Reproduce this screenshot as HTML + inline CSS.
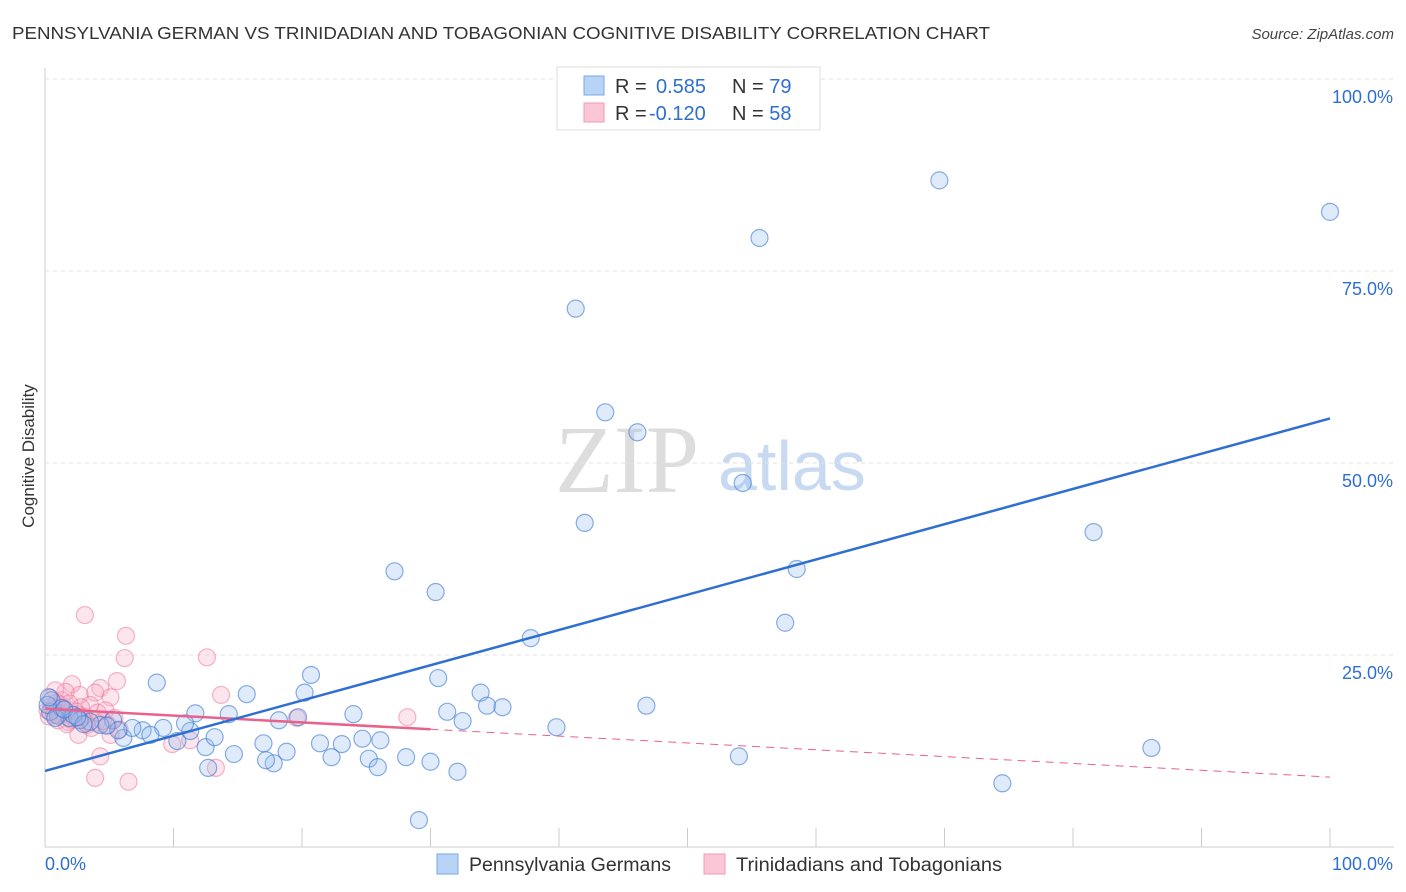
<!DOCTYPE html>
<html><head><meta charset="utf-8"><style>
body{margin:0;background:#fff;font-family:"Liberation Sans",sans-serif;}
#wrap{position:relative;width:1406px;height:892px;overflow:hidden;}
</style></head><body>
<div id="wrap">
<svg id="chart" width="1406" height="892" xmlns="http://www.w3.org/2000/svg">
<text x="12" y="39" font-size="17.5" fill="#333" textLength="978" lengthAdjust="spacingAndGlyphs">PENNSYLVANIA GERMAN VS TRINIDADIAN AND TOBAGONIAN COGNITIVE DISABILITY CORRELATION CHART</text>
<text x="1394" y="39" font-size="15" fill="#444" font-style="italic" text-anchor="end">Source: ZipAtlas.com</text>
<text transform="translate(34,456) rotate(-90)" font-size="17" fill="#333" text-anchor="middle">Cognitive Disability</text>
<text x="555" y="492" font-size="96" fill="#ddd" font-family="Liberation Serif,serif">ZIP</text>
<text x="718" y="490" font-size="70" fill="#c8daf2">atlas</text>
<g id="grid"></g>
<g id="marks"></g>
<g id="legend">
<rect x="557" y="67" width="263" height="63" fill="#fff" stroke="#ddd"/>
<rect x="584" y="76" width="20" height="19" fill="#b8d3f5" stroke="#7aa7e3"/>
<rect x="584" y="103" width="20" height="19" fill="#fbc7d6" stroke="#f09ab3"/>
<text x="615" y="93" font-size="20" fill="#333">R = <tspan x="656" fill="#2f6fd1">0.585</tspan><tspan x="732" fill="#333">N = </tspan><tspan fill="#2f6fd1">79</tspan></text>
<text x="615" y="120" font-size="20" fill="#333">R = <tspan x="649" fill="#2f6fd1">-0.120</tspan><tspan x="732" fill="#333">N = </tspan><tspan fill="#2f6fd1">58</tspan></text>
</g>
<g>
<rect x="437" y="854" width="21" height="20" fill="#b8d3f5" stroke="#7aa7e3"/>
<text x="469" y="871" font-size="19" fill="#333" textLength="202" lengthAdjust="spacingAndGlyphs">Pennsylvania Germans</text>
<rect x="704" y="854" width="21" height="20" fill="#fbc7d6" stroke="#f09ab3"/>
<text x="736" y="871" font-size="19" fill="#333" textLength="266" lengthAdjust="spacingAndGlyphs">Trinidadians and Tobagonians</text>
</g>
</svg>
</div>
<script>
const yTicks=[25,50,75,100];
const xTickLabels=["0.0%","100.0%"];
const blueX=[69.6,100,55.6,41.3,43.6,46.1,54.3,42.0,81.6,58.5,27.2,30.4,37.8,57.6,30.6,20.7,8.7,15.7,20.2,33.9,34.4,35.6,46.8,31.3,24.0,32.5,39.8,86.1,54.0,74.5,29.1,11.7,14.3,18.2,19.7,12.7,14.7,17.0,18.8,17.8,17.2,21.4,22.3,23.1,24.7,25.2,25.9,26.1,28.1,30.0,32.1,12.5,13.2,10.3,11.3,9.2,10.9,7.6,6.1,6.8,5.3,4.3,3.5,2.7,1.9,1.0,0.4,0.5,1.3,5.7,8.2,0.2,0.8,2.2,3.0,1.5,4.8,0.3,2.5];
const blueY=[86.8,82.7,79.3,70.1,56.6,54.0,47.4,42.2,41.0,36.2,35.9,33.2,27.2,29.2,22.0,22.4,21.4,19.9,20.1,20.1,18.4,18.2,18.4,17.6,17.3,16.4,15.6,12.9,11.8,8.3,3.5,17.4,17.3,16.5,16.9,10.3,12.1,13.5,12.4,10.9,11.3,13.5,11.7,13.4,14.1,11.5,10.4,13.9,11.7,11.1,9.8,13.0,14.3,13.8,15.1,15.5,16.1,15.2,14.2,15.5,16.5,15.9,16.3,16.5,16.8,17.1,17.6,19.1,18.1,15.2,14.6,18.5,16.8,17.2,16.0,17.9,15.8,19.5,16.9];
const pinkX=[3.1,6.3,6.2,12.6,13.7,5.6,19.6,28.2,2.1,4.3,5.1,3.9,2.7,1.6,0.8,0.4,1.2,1.9,3.5,4.7,2.6,1.8,3.3,2.6,5.1,9.9,11.3,4.3,3.9,6.5,13.3,1.0,0.2,1.3,4.9,5.4,0.6,1.4,2.3,3.0,4.0,0.9,1.7,2.8,3.6,0.3,1.1,2.0,4.5,5.8,0.5,1.5,2.4,3.2,0.7,1.9,2.9,4.1];
const pinkY=[30.2,27.5,24.6,24.7,19.8,21.6,16.8,16.9,21.2,20.7,19.5,20.1,19.8,20.2,20.4,19.4,18.5,17.8,18.5,17.8,17.2,16.3,15.9,14.6,14.6,13.4,13.9,11.8,9.0,8.5,10.3,16.5,17.8,19.1,15.9,16.8,18.0,17.5,16.8,17.0,16.2,18.8,16.0,18.2,15.5,17.0,17.4,16.6,16.4,15.3,18.3,17.9,17.6,16.1,17.2,18.7,16.9,17.5];
const blueTrend=[9.9,55.8];
const pinkTrend=[18.0,9.1];
const pinkSolidEnd=30;
const X=v=>45+v*12.85, Y=v=>847-v*7.68;
const NS="http://www.w3.org/2000/svg";
function mk(tag,attrs,parent){const e=document.createElementNS(NS,tag);for(const k in attrs)e.setAttribute(k,attrs[k]);parent.appendChild(e);return e;}
const grid=document.getElementById('grid'),marks=document.getElementById('marks');
let l=mk('line',{x1:45,y1:68,x2:45,y2:847,stroke:'#ccc'},grid);


l=mk('line',{x1:45,y1:847,x2:1394,y2:847,stroke:'#ccc'},grid);


yTicks.forEach(t=>{
 const g=mk('line',{x1:45,y1:Y(t),x2:1394,y2:Y(t),stroke:'#e2e2e2','stroke-dasharray':'4,4'},grid);
 
 
 const tx=mk('text',{x:1393,y:Y(t)+24,'font-size':18,fill:'#2f6fd1','text-anchor':'end'},grid);tx.textContent=t.toFixed(1)+'%';
 
 
});
for(let i=0;i<=10;i++){const tk=mk('line',{x1:X(i*10),y1:828,x2:X(i*10),y2:847,stroke:'#ccc'},grid);
 
 }
let t0=mk('text',{x:45,y:870,'font-size':18,fill:'#2f6fd1'},grid);t0.textContent=xTickLabels[0];


let t1=mk('text',{x:1393,y:870,'font-size':18,fill:'#2f6fd1','text-anchor':'end'},grid);t1.textContent=xTickLabels[1];


pinkX.forEach((x,i)=>{const c=mk('circle',{cx:X(x),cy:Y(pinkY[i]),r:8.5,fill:'rgba(248,170,195,0.3)',stroke:'rgba(236,120,155,0.55)','stroke-width':1.2},marks);
 
 });
blueX.forEach((x,i)=>{const c=mk('circle',{cx:X(x),cy:Y(blueY[i]),r:8.5,fill:'rgba(150,190,240,0.3)',stroke:'rgba(60,120,210,0.6)','stroke-width':1.2},marks);
 
 });
const pAt=v=>pinkTrend[0]+(pinkTrend[1]-pinkTrend[0])*v/100;
let pl=mk('line',{x1:X(0),y1:Y(pinkTrend[0]),x2:X(pinkSolidEnd),y2:Y(pAt(pinkSolidEnd)),stroke:'#e8628c','stroke-width':2.5},marks);


let pd=mk('line',{x1:X(pinkSolidEnd),y1:Y(pAt(pinkSolidEnd)),x2:X(100),y2:Y(pinkTrend[1]),stroke:'#e8628c','stroke-width':1,'stroke-dasharray':'8,6'},marks);


let bl=mk('line',{x1:X(0),y1:Y(blueTrend[0]),x2:X(100),y2:Y(blueTrend[1]),stroke:'#2f6fd1','stroke-width':2.5},marks);


</script>
</body></html>
